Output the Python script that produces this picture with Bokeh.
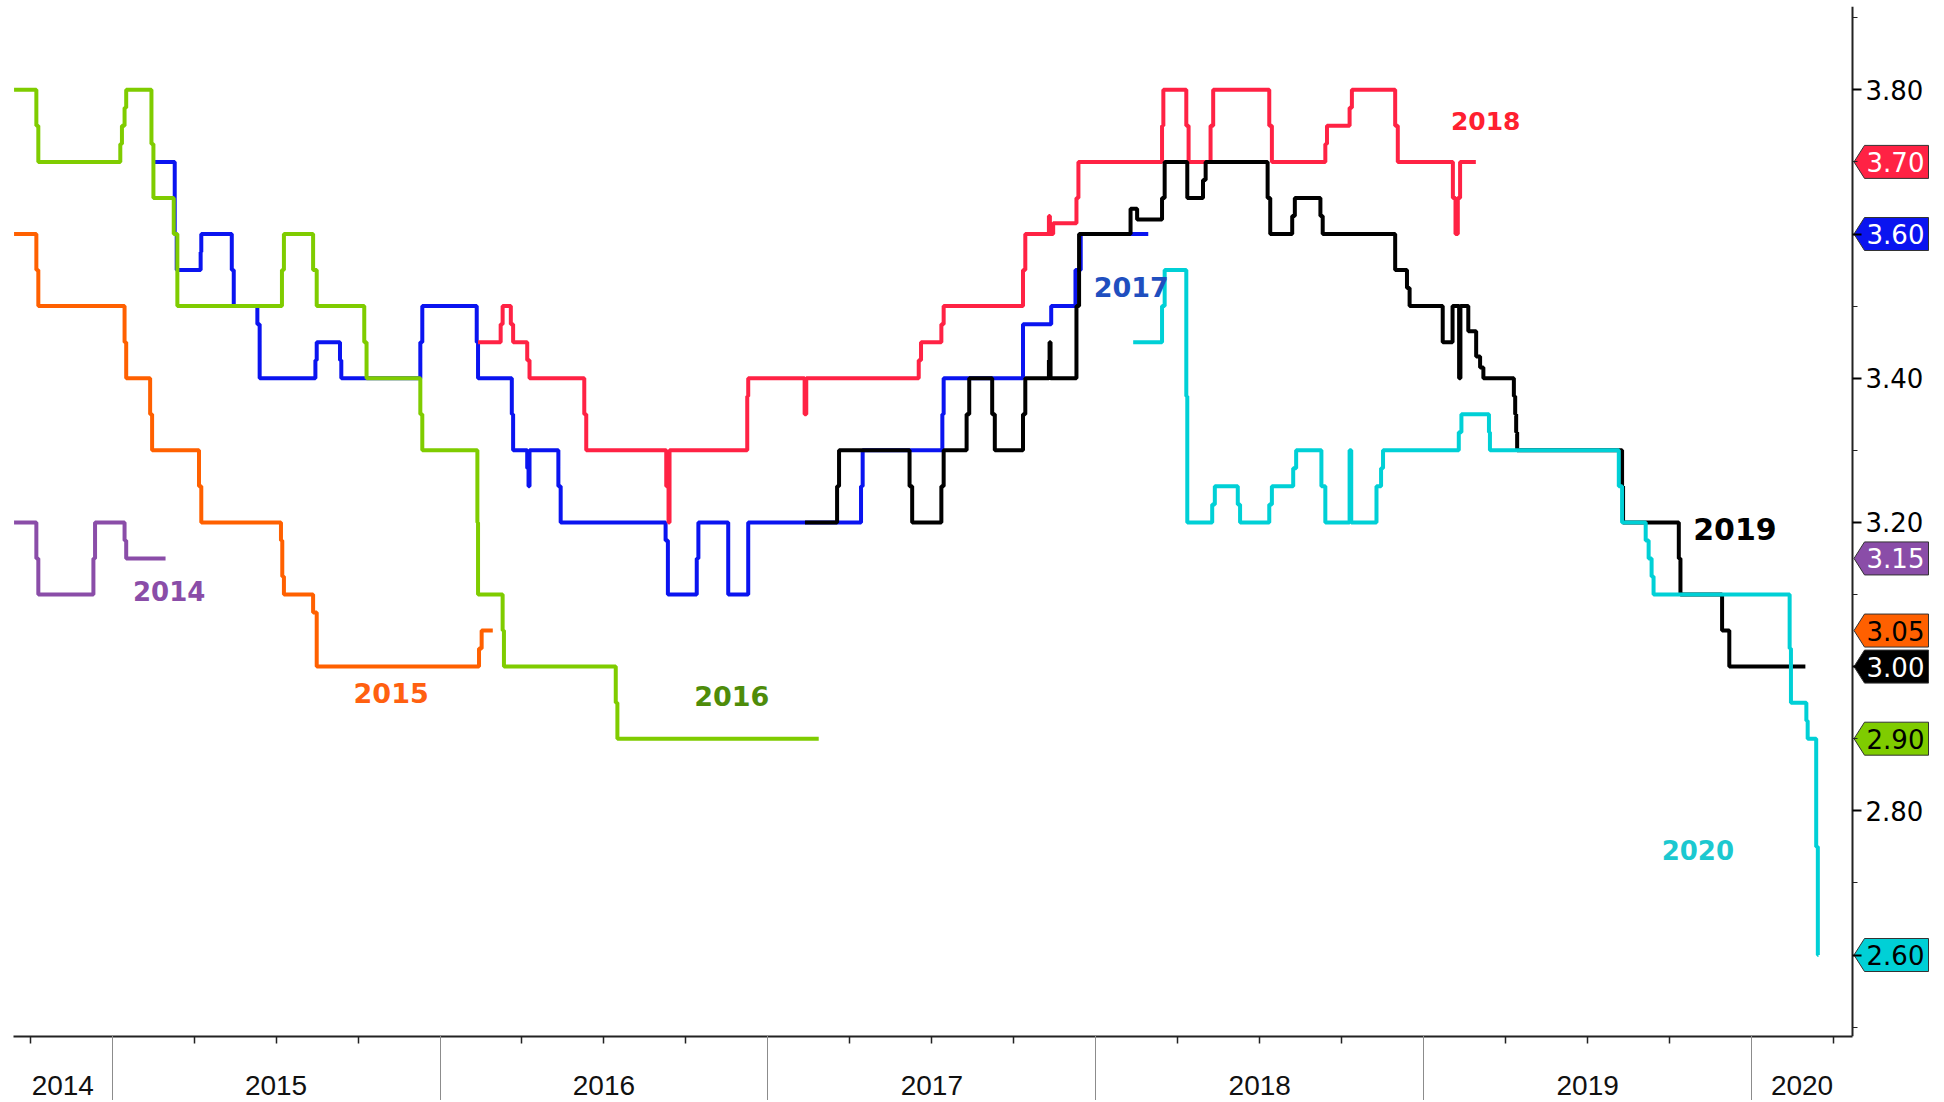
from bokeh.plotting import figure
from bokeh.models import Range1d, FixedTicker, LinearAxis, ColumnDataSource
from bokeh.core.properties import value
from bokeh.embed import file_html
from bokeh.resources import INLINE

# ---------------- data (x: decimal year, y: rate in %) ----------------
x_2014 = [2014.701, 2014.769, 2014.775, 2014.943, 2014.948, 2015.038, 2015.043, 2015.163]
y_2014 = [3.20, 3.15, 3.10, 3.15, 3.20, 3.175, 3.15, 3.15]

x_2015 = [2014.701, 2014.769, 2014.775, 2015.038, 2015.043, 2015.116, 2015.122, 2015.265, 2015.272,
          2015.515, 2015.519, 2015.524, 2015.613, 2015.624, 2016.119, 2016.127, 2016.161]
y_2015 = [3.60, 3.55, 3.50, 3.45, 3.40, 3.35, 3.30, 3.25, 3.20,
          3.175, 3.125, 3.10, 3.075, 3.00, 3.025, 3.05, 3.05]

x_2016 = [2014.701, 2014.769, 2014.775, 2015.025, 2015.030, 2015.038, 2015.043, 2015.120, 2015.126,
          2015.188, 2015.199, 2015.518, 2015.524, 2015.613, 2015.624, 2015.769, 2015.776, 2015.940,
          2015.946, 2016.114, 2016.116, 2016.191, 2016.195, 2016.536, 2016.541, 2017.155]
y_2016 = [3.80, 3.75, 3.70, 3.725, 3.75, 3.775, 3.80, 3.725, 3.65,
          3.60, 3.50, 3.55, 3.60, 3.55, 3.50, 3.45, 3.40, 3.35,
          3.30, 3.20, 3.10, 3.05, 3.00, 2.95, 2.90, 2.90]

x_2017 = [2015.122, 2015.191, 2015.197, 2015.270, 2015.272, 2015.365, 2015.371, 2015.443, 2015.450,
          2015.620, 2015.624, 2015.695, 2015.699, 2015.940, 2015.946, 2016.112, 2016.116, 2016.219,
          2016.223, 2016.266, 2016.270, 2016.273, 2016.361, 2016.368, 2016.688, 2016.695, 2016.783,
          2016.788, 2016.879, 2016.940, 2017.284, 2017.289, 2017.532, 2017.536, 2017.778, 2017.864,
          2017.938, 2017.954, 2018.160]
y_2017 = [3.70, 3.60, 3.55, 3.575, 3.60, 3.55, 3.50, 3.475, 3.40,
          3.425, 3.45, 3.425, 3.40, 3.45, 3.50, 3.45, 3.40, 3.35,
          3.30, 3.275, 3.25, 3.30, 3.25, 3.20, 3.175, 3.10, 3.15,
          3.20, 3.10, 3.20, 3.25, 3.30, 3.35, 3.40, 3.475, 3.50,
          3.55, 3.60, 3.60]

x_2018 = [2016.116, 2016.185, 2016.191, 2016.216, 2016.223, 2016.266, 2016.273, 2016.440, 2016.446,
          2016.690, 2016.697, 2016.700, 2016.937, 2016.940, 2017.112, 2017.117, 2017.460, 2017.467,
          2017.529, 2017.536, 2017.778, 2017.785, 2017.857, 2017.860, 2017.870, 2017.941, 2017.947,
          2018.202, 2018.206, 2018.276, 2018.283, 2018.350, 2018.358, 2018.529, 2018.537, 2018.700,
          2018.705, 2018.774, 2018.781, 2018.913, 2018.921, 2019.089, 2019.097, 2019.104, 2019.111,
          2019.159]
y_2018 = [3.45, 3.475, 3.50, 3.475, 3.45, 3.425, 3.40, 3.35, 3.30,
          3.25, 3.20, 3.30, 3.375, 3.40, 3.35, 3.40, 3.425, 3.45,
          3.475, 3.50, 3.55, 3.60, 3.625, 3.60, 3.615, 3.65, 3.70,
          3.75, 3.80, 3.75, 3.70, 3.75, 3.80, 3.75, 3.70, 3.725,
          3.75, 3.775, 3.80, 3.75, 3.70, 3.65, 3.60, 3.65, 3.70,
          3.70]

x_2019 = [2017.113, 2017.211, 2017.217, 2017.432, 2017.440, 2017.529, 2017.536, 2017.606, 2017.614,
          2017.684, 2017.692, 2017.778, 2017.785, 2017.857, 2017.859, 2017.862, 2017.941, 2017.949,
          2018.106, 2018.126, 2018.202, 2018.210, 2018.279, 2018.327, 2018.335, 2018.524, 2018.532,
          2018.599, 2018.607, 2018.685, 2018.692, 2018.913, 2018.949, 2018.957, 2019.058, 2019.088,
          2019.108, 2019.112, 2019.136, 2019.160, 2019.172, 2019.182, 2019.275, 2019.279,
          2019.282, 2019.285, 2019.605, 2019.608, 2019.778, 2019.783, 2019.910, 2019.932, 2020.164]
y_2019 = [3.20, 3.25, 3.30, 3.25, 3.20, 3.25, 3.30, 3.35, 3.40,
          3.35, 3.30, 3.35, 3.40, 3.425, 3.45, 3.40, 3.50, 3.60,
          3.635, 3.62, 3.65, 3.70, 3.65, 3.675, 3.70, 3.65, 3.60,
          3.625, 3.65, 3.625, 3.60, 3.55, 3.525, 3.50, 3.45, 3.50,
          3.40, 3.50, 3.465, 3.43, 3.415, 3.40, 3.375, 3.35,
          3.325, 3.30, 3.25, 3.20, 3.15, 3.10, 3.05, 3.00, 3.00]

x_2020 = [2018.114, 2018.202, 2018.210, 2018.276, 2018.279, 2018.355, 2018.363, 2018.433, 2018.440,
          2018.529, 2018.537, 2018.602, 2018.611, 2018.688, 2018.700, 2018.774, 2018.779, 2018.856,
          2018.870, 2018.876, 2019.107, 2019.115, 2019.199, 2019.202, 2019.595, 2019.605, 2019.677,
          2019.686, 2019.695, 2019.701, 2020.116, 2020.120, 2020.167, 2020.171, 2020.197, 2020.202,
          2020.204]
y_2020 = [3.45, 3.50, 3.55, 3.375, 3.20, 3.225, 3.25, 3.225, 3.20,
          3.225, 3.25, 3.275, 3.30, 3.25, 3.20, 3.30, 3.20, 3.25,
          3.275, 3.30, 3.325, 3.35, 3.325, 3.30, 3.25, 3.20, 3.175,
          3.15, 3.125, 3.10, 3.025, 2.95, 2.925, 2.90, 2.75, 2.60,
          2.60]

series_names = ["2017", "2018", "2016", "2015", "2014", "2019", "2020"]
series_x = [x_2017, x_2018, x_2016, x_2015, x_2014, x_2019, x_2020]
series_y = [y_2017, y_2018, y_2016, y_2015, y_2014, y_2019, y_2020]
series_colors = ["#0A14F0", "#FF2244", "#7FCC00", "#FF6000", "#8A4DA8", "#000000", "#00D0D6"]
badge_text_colors = ["#FFFFFF", "#FFFFFF", "#000000", "#000000", "#FFFFFF", "#FFFFFF", "#000000"]

label_text = ["2014", "2015", "2016", "2017", "2018", "2019", "2020"]
label_x = [2015.174, 2015.851, 2016.890, 2018.108, 2019.189, 2019.949, 2019.836]
label_y = [3.105, 2.964, 2.959, 3.527, 3.757, 3.191, 2.746]
label_color = ["#8A4DA8", "#FF6010", "#4E8C0A", "#1F4FBF", "#FF2030", "#000000", "#1CC8D0"]
label_size = ["26px", "27px", "27px", "27px", "25px", "30px", "26px"]

year_labels = ["2014", "2015", "2016", "2017", "2018", "2019", "2020"]
y_major = [2.6, 2.8, 3.0, 3.2, 3.4, 3.6, 3.8]
y_minor = [2.5, 2.7, 2.9, 3.1, 3.3, 3.5, 3.7, 3.9]

# ---------------- layout ----------------
W, H = 1940, 1100
MB_L, MB_R, MB_T, MB_B = 13, 8, 6, 64
FRAME_W = W - MB_L - MB_R
FRAME_H = H - MB_T - MB_B
PX_PER_YEAR = 327.9
PX_PER_UNIT = 721.0
X_START = 2015 - (111.6 - MB_L) / PX_PER_YEAR
X_END = X_START + FRAME_W / PX_PER_YEAR
X_AXIS = 2015 + (1852 - 111.6) / PX_PER_YEAR          # where the value axis sits
Y_END = 3.80 + (89.3 - MB_T) / PX_PER_UNIT
Y_START = Y_END - FRAME_H / PX_PER_UNIT

p = figure(width=W, height=H, x_range=Range1d(X_START, X_END), y_range=Range1d(Y_START, Y_END),
           output_backend="svg", toolbar_location=None, y_axis_location="right",
           min_border_left=MB_L, min_border_right=MB_R, min_border_top=MB_T, min_border_bottom=MB_B)
p.outline_line_color = None
p.grid.visible = False
p.background_fill_color = "white"
p.border_fill_color = "white"

# x axis: line + quarterly ticks
year_bounds = [float(y) for y in range(2015, 2021)]
quarters = [y + q for y in range(2014, 2021) for q in (0.25, 0.5, 0.75) if X_START <= y + q <= X_AXIS]
xa = p.xaxis[0]
xa.bounds = (X_START, X_AXIS)
xa.ticker = FixedTicker(ticks=quarters, minor_ticks=[])
xa.major_label_overrides = {q: "" for q in quarters}
xa.major_label_text_font_size = "0px"
xa.major_label_standoff = 0
xa.axis_line_color = "#222222"
xa.axis_line_width = 2
xa.major_tick_line_color = "#222222"
xa.major_tick_line_width = 1.5
xa.major_tick_out = 7
xa.major_tick_in = 0

# second x axis: year names centred in each year + long year separators
label_pos = [(X_START + 2015) / 2] + [y + 0.5 for y in range(2015, 2020)] + [(2020 + X_AXIS) / 2]
xb = LinearAxis(ticker=FixedTicker(ticks=label_pos, minor_ticks=year_bounds),
                major_label_overrides=dict(zip(label_pos, year_labels)),
                axis_line_color=None, major_tick_line_color=None,
                major_tick_out=0, major_tick_in=0,
                minor_tick_line_color="#8C8C8C", minor_tick_line_width=1,
                minor_tick_out=57, minor_tick_in=8,
                major_label_standoff=-25,
                major_label_text_font="Liberation Sans", major_label_text_font_size="28px",
                major_label_text_color="#111111")
p.add_layout(xb, "below")

# value axis, fixed at the right end of the time span
badge_vals = [ys[-1] for ys in series_y]
ya = p.yaxis[0]
ya.fixed_location = X_AXIS
ya.ticker = FixedTicker(ticks=y_major, minor_ticks=y_minor)
ya.major_label_overrides = {t: ("" if any(abs(t - b) < 0.035 for b in badge_vals) else f"{t:.2f}")
                            for t in y_major}
ya.axis_line_color = "#222222"
ya.axis_line_width = 2
ya.major_tick_line_color = "black"
ya.major_tick_line_width = 2
ya.major_tick_out = 9
ya.major_tick_in = 0
ya.minor_tick_line_color = "#222222"
ya.minor_tick_out = 5
ya.minor_tick_in = 0
ya.major_label_standoff = 4
ya.major_label_text_font = "DejaVu Sans"
ya.major_label_text_font_size = "26px"
ya.major_label_text_color = "black"

# lines
for xs, ys, col in zip(series_x, series_y, series_colors):
    p.step(xs, ys, mode="after", line_color=col, line_width=4)

# series labels
src = ColumnDataSource(dict(x=label_x, y=label_y, text=label_text, color=label_color, size=label_size))
p.text(x="x", y="y", text="text", source=src, text_color="color", text_font_size="size",
       text_font=value("DejaVu Sans"), text_font_style="bold", text_align="center",
       text_baseline="middle")

# last-value badges next to the value axis
dx = 1.0 / PX_PER_YEAR
dy = 1.0 / PX_PER_UNIT
bx, by = [], []
for v in badge_vals:
    x0, x1, x2 = X_AXIS + 1.5 * dx, X_AXIS + 12 * dx, X_AXIS + 76 * dx
    h = 16.5 * dy
    bx.append([x0, x1, x2, x2, x1])
    by.append([v, v + h, v + h, v - h, v - h])
bsrc = ColumnDataSource(dict(xs=bx, ys=by, color=series_colors,
                             x=[X_AXIS + 43 * dx] * len(badge_vals), y=badge_vals,
                             text=[f"{v:.2f}" for v in badge_vals], tcolor=badge_text_colors))
p.patches(xs="xs", ys="ys", source=bsrc, fill_color="color", line_color="#333333", line_width=1)
p.text(x="x", y="y", text="text", source=bsrc, text_color="tcolor", text_font_size="26px",
       text_font=value("DejaVu Sans"), text_align="center", text_baseline="middle")

open("out.html", "w").write(file_html(p, INLINE))
